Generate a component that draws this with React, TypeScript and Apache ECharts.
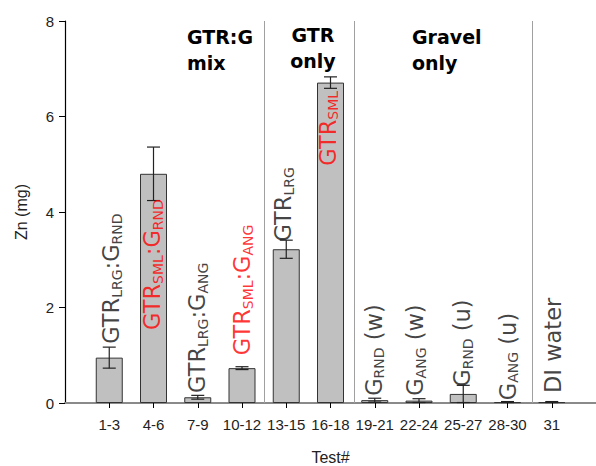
import React, { useEffect, useRef } from 'react';
import * as echarts from 'echarts';

const categories = ['1-3', '4-6', '7-9', '10-12', '13-15', '16-18', '19-21', '22-24', '25-27', '28-30', '31'];
const positions = [1, 2, 3, 4, 5, 6, 7, 8, 9, 10, 11];
const znMeans = [0.95, 4.8, 0.12, 0.73, 3.22, 6.71, 0.06, 0.05, 0.19, 0.02, 0.02];
const znErrors = [0.22, 0.56, 0.04, 0.03, 0.19, 0.12, 0.04, 0.04, 0.18, 0.01, 0.01];
const groupDividers = [4.51, 6.53, 10.56];

const annotationTexts = [
  '{b|GTR}{s|LRG}{b|:G}{s|RND}',
  '{b|GTR}{s|SML}{b|:G}{s|RND}',
  '{b|GTR}{s|LRG}{b|:G}{s|ANG}',
  '{b|GTR}{s|SML}{b|:G}{s|ANG}',
  '{b|GTR}{s|LRG}',
  '{b|GTR}{s|SML}',
  '{b|G}{s|RND}{b| (w)}',
  '{b|G}{s|ANG}{b| (w)}',
  '{b|G}{s|RND}{b| (u)}',
  '{b|G}{s|ANG}{b| (u)}',
  '{b|DI water}',
];
const annotationColors = ['#111', '#ff0000', '#111', '#ff0000', '#111', '#ff0000', '#111', '#111', '#111', '#111', '#111'];
const annotationX = [1.05, 1.97, 2.99, 4.0, 4.93, 5.94, 6.98, 7.91, 8.98, 10.0, 11.03];
const annotationY = [1.24, 1.53, 0.21, 1.0, 3.38, 4.97, 0.15, 0.15, 0.34, 0.06, 0.21];

const groupTitles = ['GTR:G\nmix', 'GTR\nonly', 'Gravel\nonly'];

const AXIS_FONT = '"Liberation Sans", Arial, sans-serif';
const LABEL_FONT = '"DejaVu Sans", sans-serif';

export default function App() {
  const ref = useRef<HTMLDivElement>(null);
  useEffect(() => {
    if (!ref.current) return;
    const chart = echarts.init(ref.current, undefined, { renderer: 'svg' });
    const titleStyle = {
      fontFamily: LABEL_FONT,
      fontWeight: 'bold',
      fontSize: 19,
      lineHeight: 26,
      fill: '#000',
      textVerticalAlign: 'top',
    };
    const option: any = {
      animation: false,
      grid: { left: 65, right: 0, top: 21, bottom: 63, outerBoundsMode: 'none', containLabel: false },
      xAxis: [
        {
          type: 'value',
          min: 0,
          max: 12,
          axisLine: { show: true, onZero: false, lineStyle: { color: '#000', width: 1.2 } },
          axisTick: { show: true, length: 5, customValues: positions, lineStyle: { color: '#000' } },
          axisLabel: {
            customValues: positions,
            formatter: (v: number) => categories[Math.round(v) - 1] ?? '',
            fontSize: 15,
            fontFamily: AXIS_FONT,
            color: '#222',
            margin: 14,
          },
          splitLine: { show: false },
          name: 'Test#',
          nameLocation: 'middle',
          nameGap: 46,
          nameTextStyle: { fontSize: 16, fontFamily: AXIS_FONT, color: '#222' },
        },
        {
          type: 'value',
          min: 0,
          max: 12,
          position: 'top',
          axisLine: { show: true, lineStyle: { color: '#8a8a8a', width: 2 } },
          axisTick: { show: false },
          axisLabel: { show: false },
          splitLine: { show: false },
        },
      ],
      yAxis: {
        type: 'value',
        min: 0,
        max: 8,
        interval: 2,
        axisLine: { show: true, lineStyle: { color: '#000', width: 1.2 } },
        axisTick: { show: true, length: 6, lineStyle: { color: '#000' } },
        axisLabel: { fontSize: 15, fontFamily: AXIS_FONT, color: '#222', margin: 11 },
        splitLine: { show: false },
        name: 'Zn (mg)',
        nameLocation: 'middle',
        nameGap: 36,
        nameTextStyle: { fontSize: 16, fontFamily: AXIS_FONT, color: '#222' },
      },
      graphic: [
        { type: 'text', style: { ...titleStyle, x: 187, y: 24, text: groupTitles[0], textAlign: 'left' } },
        { type: 'text', style: { ...titleStyle, x: 313, y: 22, text: groupTitles[1], textAlign: 'center' } },
        { type: 'text', style: { ...titleStyle, x: 412, y: 24, text: groupTitles[2], textAlign: 'left' } },
      ],
      series: [
        {
          type: 'bar',
          xAxisIndex: 0,
          data: positions.map((p, i) => [p, znMeans[i]]),
          barWidth: 27,
          itemStyle: { color: '#c0c0c0', borderColor: '#333', borderWidth: 1 },
          markLine: {
            silent: true,
            symbol: 'none',
            label: { show: false },
            lineStyle: { color: '#a0a0a0', width: 1, type: 'solid' },
            data: groupDividers.map((x) => ({ xAxis: x })),
          },
          z: 2,
        },
        {
          type: 'custom',
          xAxisIndex: 0,
          encode: { x: 0, y: [1, 2] },
          data: positions.map((p, i) => [p, znMeans[i] - znErrors[i], znMeans[i] + znErrors[i]]),
          renderItem: (params: any, api: any) => {
            const x = api.value(0);
            const pLo = api.coord([x, api.value(1)]);
            const pHi = api.coord([x, api.value(2)]);
            const hw = 6.5;
            const style = { stroke: '#222', lineWidth: 1.2 };
            return {
              type: 'group',
              children: [
                { type: 'line', shape: { x1: pLo[0], y1: pLo[1], x2: pHi[0], y2: pHi[1] }, style },
                { type: 'line', shape: { x1: pHi[0] - hw, y1: pHi[1], x2: pHi[0] + hw, y2: pHi[1] }, style },
                { type: 'line', shape: { x1: pLo[0] - hw, y1: pLo[1], x2: pLo[0] + hw, y2: pLo[1] }, style },
              ],
            };
          },
          z: 3,
        },
        {
          type: 'scatter',
          xAxisIndex: 0,
          symbol: 'circle',
          symbolSize: 1,
          itemStyle: { color: 'rgba(0,0,0,0)' },
          data: annotationX.map((x, i) => ({
            value: [x, annotationY[i]],
            label: { formatter: annotationTexts[i], color: annotationColors[i] },
          })),
          label: {
            show: true,
            position: 'inside',
            rotate: 90,
            align: 'left',
            verticalAlign: 'middle',
            rich: {
              b: { fontSize: 22.5, fontFamily: LABEL_FONT, lineHeight: 25 },
              s: { fontSize: 14, fontFamily: LABEL_FONT, lineHeight: 10, verticalAlign: 'bottom' },
            },
          },
          z: 4,
        },
      ],
    };
    chart.setOption(option);
    return () => chart.dispose();
  }, []);
  return (
    <div
      ref={ref}
      style={{ position: 'fixed', left: 0, top: 0, width: 596, height: 466, background: '#fff' }}
    />
  );
}
